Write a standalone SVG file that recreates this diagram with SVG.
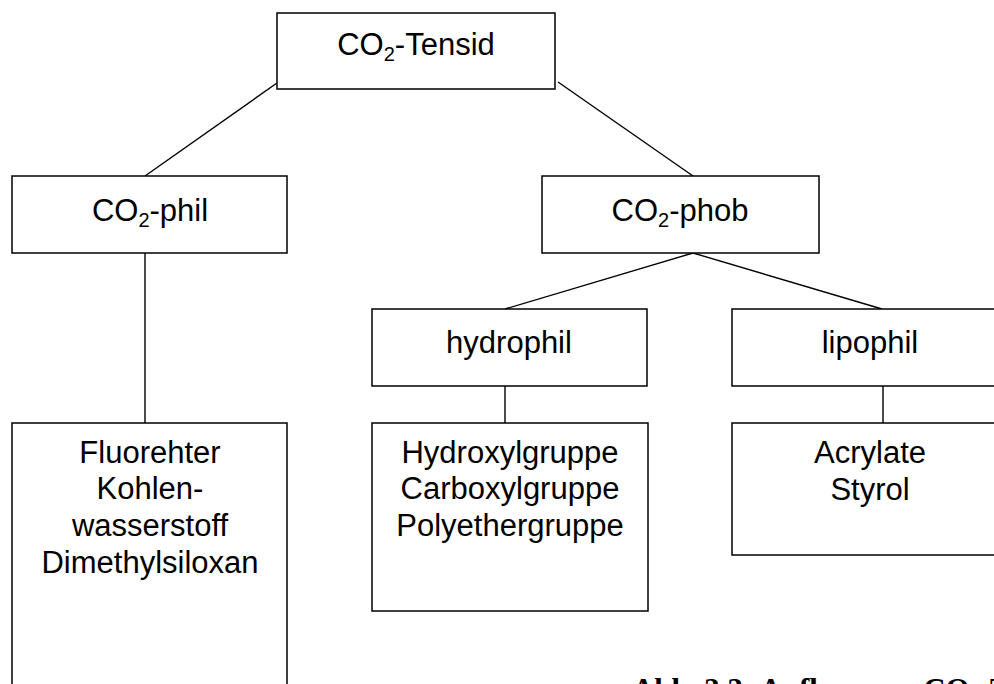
<svg xmlns="http://www.w3.org/2000/svg" width="994" height="684" viewBox="0 0 994 684">
<style>
.box{fill:#fff;stroke:#000;stroke-width:1.5}
.t{font-family:"Liberation Sans",Arial,sans-serif;font-size:31px;fill:#000;text-anchor:middle}
.sub{font-size:20px}
.con{stroke:#000;stroke-width:1.4;fill:none}
.cap{font-family:"Liberation Serif","Times New Roman",serif;font-size:31px;font-weight:bold;fill:#000}
</style>
<rect width="994" height="684" fill="#fff"/>
<g id="connectors">
<line class="con" x1="277" y1="83" x2="145" y2="176"/>
<line class="con" x1="558" y1="82" x2="693" y2="176"/>
<line class="con" x1="145" y1="253" x2="145" y2="423"/>
<line class="con" x1="693" y1="253" x2="505" y2="309"/>
<line class="con" x1="693" y1="253" x2="882" y2="309"/>
<line class="con" x1="505" y1="386" x2="505" y2="423"/>
<line class="con" x1="883" y1="386" x2="883" y2="423"/>
</g>
<g id="n-tensid">
<rect class="box" x="277" y="13" width="278" height="76"/>
<text class="t" x="416" y="55">CO<tspan class="sub" dy="6">2</tspan><tspan dy="-6">-Tensid</tspan></text>
</g>
<g id="n-phil">
<rect class="box" x="12" y="176" width="275" height="77"/>
<text class="t" x="150" y="221">CO<tspan class="sub" dy="6">2</tspan><tspan dy="-6">-phil</tspan></text>
</g>
<g id="n-phob">
<rect class="box" x="542" y="176" width="277" height="77"/>
<text class="t" x="680" y="221">CO<tspan class="sub" dy="6">2</tspan><tspan dy="-6">-phob</tspan></text>
</g>
<g id="n-hydrophil">
<rect class="box" x="372" y="309" width="275" height="77"/>
<text class="t" x="509" y="353">hydrophil</text>
</g>
<g id="n-lipophil">
<rect class="box" x="732" y="309" width="276" height="77"/>
<text class="t" x="870" y="353">lipophil</text>
</g>
<g id="n-fluor">
<rect class="box" x="12" y="423" width="275" height="280"/>
<text class="t" x="150" y="463">Fluorehter</text>
<text class="t" x="150" y="499">Kohlen-</text>
<text class="t" x="150" y="536">wasserstoff</text>
<text class="t" x="150" y="573">Dimethylsiloxan</text>
</g>
<g id="n-hydroxyl">
<rect class="box" x="372" y="423" width="276" height="188"/>
<text class="t" x="510" y="463">Hydroxylgruppe</text>
<text class="t" x="510" y="499">Carboxylgruppe</text>
<text class="t" x="510" y="536">Polyethergruppe</text>
</g>
<g id="n-acrylate">
<rect class="box" x="732" y="423" width="276" height="132"/>
<text class="t" x="870" y="463">Acrylate</text>
<text class="t" x="870" y="500">Styrol</text>
</g>
<text class="cap" x="632" y="700">Abb. 3.3: Aufbau von CO<tspan font-size="20" dy="6">2</tspan><tspan dy="-6">-Tensiden</tspan></text>
</svg>
